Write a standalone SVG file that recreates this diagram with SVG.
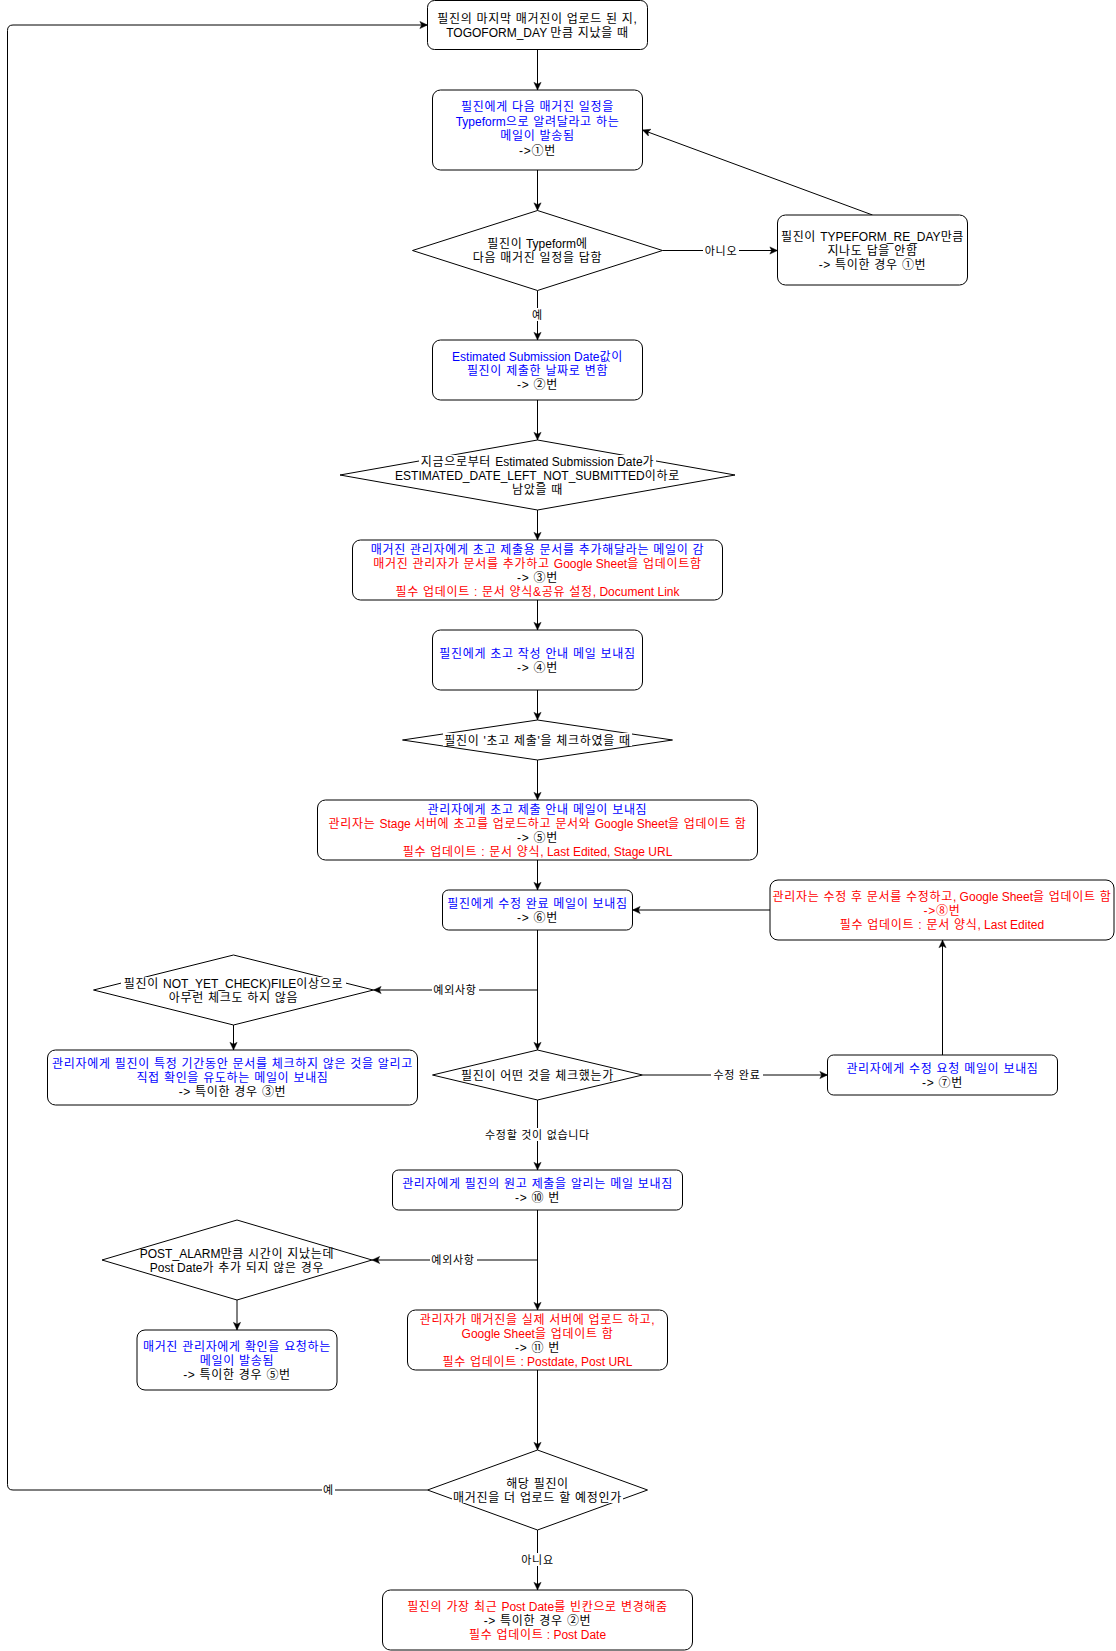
<svg xmlns="http://www.w3.org/2000/svg" width="1116" height="1651" viewBox="0 0 1116 1651">
<style>
.n{fill:#fff;stroke:#000;stroke-width:1}
.e{fill:none;stroke:#000;stroke-width:1}
.bg{fill:#fff;stroke:none}
text{font-family:"Liberation Sans","Noto Sans CJK KR",sans-serif;font-size:12px;text-anchor:middle;fill:#000;letter-spacing:0.7px}
.L{letter-spacing:0}
.b{fill:#0000ff}
.r{fill:#ff0000}
.l{font-size:11px}
</style>
<defs>
<marker id="a" viewBox="0 0 10 10" refX="9.5" refY="5" markerWidth="9" markerHeight="9" markerUnits="userSpaceOnUse" orient="auto">
<path d="M1,1 L9.5,5 L1,9 L3,5 z" fill="#000" stroke="#000" stroke-width="0.5"/>
</marker>
</defs>
<rect width="1116" height="1651" fill="#fff"/>

<g id="connectors">
<path class="e" d="M537.5,50 V90" marker-end="url(#a)"/>
<path class="e" d="M537.5,170 V210.5" marker-end="url(#a)"/>
<path class="e" d="M662.5,250.5 H777.5" marker-end="url(#a)"/>
<path class="e" d="M872.5,215 L642.5,130" marker-end="url(#a)"/>
<path class="e" d="M537.5,290.5 V340" marker-end="url(#a)"/>
<path class="e" d="M537.5,400 V440" marker-end="url(#a)"/>
<path class="e" d="M537.5,510 V540" marker-end="url(#a)"/>
<path class="e" d="M537.5,600 V630" marker-end="url(#a)"/>
<path class="e" d="M537.5,690 V720" marker-end="url(#a)"/>
<path class="e" d="M537.5,760 V800" marker-end="url(#a)"/>
<path class="e" d="M537.5,860 V890" marker-end="url(#a)"/>
<path class="e" d="M770,910 H632.5" marker-end="url(#a)"/>
<path class="e" d="M537.5,930 V1050" marker-end="url(#a)"/>
<path class="e" d="M537.5,990 H373.5" marker-end="url(#a)"/>
<path class="e" d="M233.5,1025 V1050" marker-end="url(#a)"/>
<path class="e" d="M642.5,1075 H827.5" marker-end="url(#a)"/>
<path class="e" d="M942.5,1055 V940" marker-end="url(#a)"/>
<path class="e" d="M537.5,1100 V1170" marker-end="url(#a)"/>
<path class="e" d="M537.5,1210 V1310" marker-end="url(#a)"/>
<path class="e" d="M537.5,1260 H372" marker-end="url(#a)"/>
<path class="e" d="M237,1300 V1330" marker-end="url(#a)"/>
<path class="e" d="M537.5,1370 V1450" marker-end="url(#a)"/>
<path class="e" d="M427.5,1490 H13 Q7.5,1490 7.5,1484.5 V30.5 Q7.5,25 13,25 H427.5" marker-end="url(#a)"/>
<path class="e" d="M537.5,1530 V1590" marker-end="url(#a)"/>
<g id="edge-labels">
<rect class="bg" x="703" y="244" width="36" height="13"/><text class="l" x="721" y="254.5">아니오</text>
<rect class="bg" x="531" y="308" width="13" height="13"/><text class="l" x="537.5" y="319">예</text>
<rect class="bg" x="432" y="983" width="47" height="13"/><text class="l" x="455" y="994">예외사항</text>
<rect class="bg" x="711" y="1068" width="52" height="13"/><text class="l" x="737" y="1079">수정 완료</text>
<rect class="bg" x="487" y="1128" width="101" height="13"/><text class="l" x="537.5" y="1139">수정할 것이 없습니다</text>
<rect class="bg" x="430" y="1253" width="47" height="13"/><text class="l" x="453" y="1264">예외사항</text>
<rect class="bg" x="322" y="1483" width="13" height="13"/><text class="l" x="328.5" y="1494">예</text>
<rect class="bg" x="519" y="1553" width="37" height="13"/><text class="l" x="537.5" y="1564">아니요</text>
</g>
</g>

<g id="n1">
<rect class="n" x="427.5" y="0.5" width="220" height="49" rx="7"/>
<text x="537.5" y="23">필진의 마지막 매거진이 업로드 된 지,</text>
<text x="537.5" y="37"><tspan class="L">TOGOFORM_DAY </tspan>만큼 지났을 때</text>
</g>
<g id="n2">
<rect class="n" x="432.5" y="90" width="210" height="80" rx="8"/>
<text class="b" x="537.5" y="111">필진에게 다음 매거진 일정을</text>
<text class="b" x="537.5" y="125.5"><tspan class="L">Typeform</tspan>으로 알려달라고 하는</text>
<text class="b" x="537.5" y="140">메일이 발송됨</text>
<text x="537.5" y="154.5">-&gt;①번</text>
</g>
<g id="d1">
<polygon class="n" points="537.5,210.5 662.5,250.5 537.5,290.5 412.5,250.5"/>
<text x="537.5" y="247.5">필진이<tspan class="L"> Typeform</tspan>에</text>
<text x="537.5" y="261.5">다음 매거진 일정을 답함</text>
</g>
<g id="nr">
<rect class="n" x="777.5" y="215" width="190" height="70" rx="8"/>
<text x="872.5" y="240.5">필진이 <tspan class="L">TYPEFORM_RE_DAY</tspan>만큼</text>
<text x="872.5" y="254.5">지나도 답을 안함</text>
<text x="872.5" y="268.5">-&gt; 특이한 경우 ①번</text>
</g>
<g id="n3">
<rect class="n" x="432.5" y="340" width="210" height="60" rx="8"/>
<text class="b" x="537.5" y="360.5"><tspan class="L">Estimated Submission Date</tspan>값이</text>
<text class="b" x="537.5" y="374.5">필진이 제출한 날짜로 변함</text>
<text x="537.5" y="388.5">-&gt; ②번</text>
</g>
<g id="d2">
<polygon class="n" points="537.5,440 735,475 537.5,510 340,475"/>
<rect class="bg" x="419" y="455" width="237" height="12"/>
<text x="537.5" y="465.5">지금으로부터 <tspan class="L">Estimated Submission Date</tspan>가</text>
<text x="537.5" y="479.5"><tspan class="L">ESTIMATED_DATE_LEFT_NOT_SUBMITTED</tspan>이하로</text>
<text x="537.5" y="493.5">남았을 때</text>
</g>
<g id="n4">
<rect class="n" x="352.5" y="540" width="370" height="60" rx="8"/>
<text class="b" x="537.5" y="553.5">매거진 관리자에게 초고 제출용 문서를 추가해달라는 메일이 감</text>
<text class="r" x="537.5" y="567.5">매거진 관리자가 문서를 추가하고 <tspan class="L">Google Sheet</tspan>을 업데이트함</text>
<text x="537.5" y="581.5">-&gt; ③번</text>
<text class="r" x="537.5" y="595.5">필수 업데이트 : 문서 양식&amp;공유 설정<tspan class="L">, Document Link</tspan></text>
</g>
<g id="n5">
<rect class="n" x="432.5" y="630" width="210" height="60" rx="8"/>
<text class="b" x="537.5" y="657.5">필진에게 초고 작성 안내 메일 보내짐</text>
<text x="537.5" y="671.5">-&gt; ④번</text>
</g>
<g id="d3">
<polygon class="n" points="537.5,720 672.5,740 537.5,760 402.5,740"/>
<rect class="bg" x="443" y="733" width="189" height="13"/>
<text x="537.5" y="744.5">필진이 '초고 제출'을 체크하였을 때</text>
</g>
<g id="n6">
<rect class="n" x="317.5" y="800" width="440" height="60" rx="8"/>
<text class="b" x="537.5" y="813.5">관리자에게 초고 제출 안내 메일이 보내짐</text>
<text class="r" x="537.5" y="827.5">관리자는 <tspan class="L">Stage </tspan>서버에 초고를 업로드하고 문서와 <tspan class="L">Google Sheet</tspan>을 업데이트 함</text>
<text x="537.5" y="841.5">-&gt; ⑤번</text>
<text class="r" x="537.5" y="855.5">필수 업데이트 : 문서 양식<tspan class="L">, Last Edited, Stage URL</tspan></text>
</g>
<g id="n7">
<rect class="n" x="442.5" y="890" width="190" height="40" rx="6"/>
<text class="b" x="537.5" y="907.5">필진에게 수정 완료 메일이 보내짐</text>
<text x="537.5" y="921.5">-&gt; ⑥번</text>
</g>
<g id="n8">
<rect class="n" x="770" y="880" width="344" height="60" rx="8"/>
<text class="r" x="942" y="900.5">관리자는 수정 후 문서를 수정하고<tspan class="L">, Google Sheet</tspan>을 업데이트 함</text>
<text class="r" x="942" y="914.5">-&gt;⑧번</text>
<text class="r" x="942" y="928.5">필수 업데이트 : 문서 양식<tspan class="L">, Last Edited</tspan></text>
</g>
<g id="d4">
<polygon class="n" points="233.5,955 373.5,990 233.5,1025 93.5,990"/>
<rect class="bg" x="121" y="977" width="225" height="12"/>
<text x="233.5" y="987.5">필진이 <tspan class="L">NOT_YET_CHECK)FILE</tspan>이상으로</text>
<text x="233.5" y="1001.5">아무런 체크도 하지 않음</text>
</g>
<g id="n9">
<rect class="n" x="47.5" y="1050" width="370" height="55" rx="8"/>
<text class="b" x="232.5" y="1068">관리자에게 필진이 특정 기간동안 문서를 체크하지 않은 것을 알리고</text>
<text class="b" x="232.5" y="1082">직접 확인을 유도하는 메일이 보내짐</text>
<text x="232.5" y="1096">-&gt; 특이한 경우 ③번</text>
</g>
<g id="d5">
<polygon class="n" points="537.5,1050 642.5,1075 537.5,1100 432.5,1075"/>
<text x="537.5" y="1079.5">필진이 어떤 것을 체크했는가</text>
</g>
<g id="n10">
<rect class="n" x="827.5" y="1055" width="230" height="40" rx="6"/>
<text class="b" x="942.5" y="1072.5">관리자에게 수정 요청 메일이 보내짐</text>
<text x="942.5" y="1086.5">-&gt; ⑦번</text>
</g>
<g id="n11">
<rect class="n" x="392.5" y="1170" width="290" height="40" rx="6"/>
<text class="b" x="537.5" y="1187.5">관리자에게 필진의 원고 제출을 알리는 메일 보내짐</text>
<text x="537.5" y="1201.5">-&gt; ⑩ 번</text>
</g>
<g id="d6">
<polygon class="n" points="237,1220 372,1260 237,1300 102,1260"/>
<text x="237" y="1257.5"><tspan class="L">POST_ALARM</tspan>만큼 시간이 지났는데</text>
<text x="237" y="1271.5"><tspan class="L">Post Date</tspan>가 추가 되지 않은 경우</text>
</g>
<g id="n12">
<rect class="n" x="407.5" y="1310" width="260" height="60" rx="8"/>
<text class="r" x="537.5" y="1323.5">관리자가 매거진을 실제 서버에 업로드 하고,</text>
<text class="r" x="537.5" y="1337.5"><tspan class="L">Google Sheet</tspan>을 업데이트 함</text>
<text x="537.5" y="1351.5">-&gt; ⑪ 번</text>
<text class="r" x="537.5" y="1365.5">필수 업데이트<tspan class="L"> : Postdate, Post URL</tspan></text>
</g>
<g id="n13">
<rect class="n" x="137" y="1330" width="200" height="60" rx="8"/>
<text class="b" x="237" y="1350.5">매거진 관리자에게 확인을 요청하는</text>
<text class="b" x="237" y="1364.5">메일이 발송됨</text>
<text x="237" y="1378.5">-&gt; 특이한 경우 ⑤번</text>
</g>
<g id="d7">
<polygon class="n" points="537.5,1450 647.5,1490 537.5,1530 427.5,1490"/>
<rect class="bg" x="452" y="1491" width="171" height="12"/>
<text x="537.5" y="1487.5">해당 필진이</text>
<text x="537.5" y="1501.5">매거진을 더 업로드 할 예정인가</text>
</g>
<g id="n14">
<rect class="n" x="382.5" y="1590" width="310" height="60" rx="8"/>
<text class="r" x="537.5" y="1610.5">필진의 가장 최근 <tspan class="L">Post Date</tspan>를 빈칸으로 변경해줌</text>
<text x="537.5" y="1624.5">-&gt; 특이한 경우 ②번</text>
<text class="r" x="537.5" y="1638.5">필수 업데이트<tspan class="L"> : Post Date</tspan></text>
</g>
</svg>
